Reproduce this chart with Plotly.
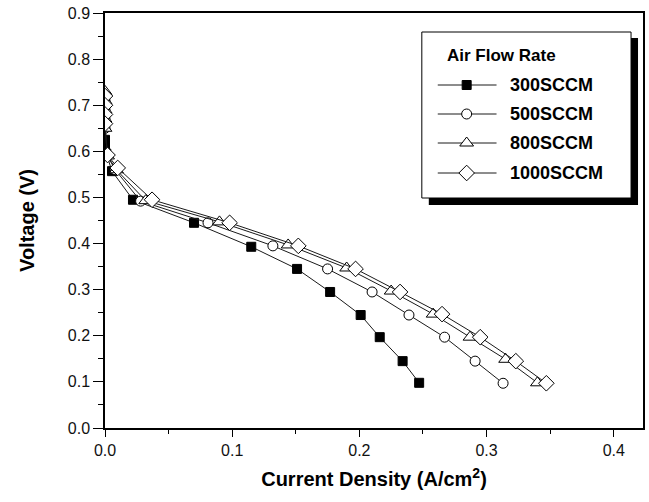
import plotly.graph_objects as go

# ---------------- data ----------------
series_names = ["300SCCM", "500SCCM", "800SCCM", "1000SCCM"]

x_300 = [0.0, 0.0, 0.001, 0.0055, 0.022, 0.070, 0.115, 0.151, 0.177, 0.201, 0.216, 0.234, 0.247]
v_300 = [0.625, 0.61, 0.595, 0.557, 0.495, 0.445, 0.393, 0.345, 0.295, 0.245, 0.197, 0.145, 0.098]

x_500 = [0.0, 0.0, 0.0, 0.0, 0.002, 0.008, 0.028, 0.081, 0.132, 0.175, 0.210, 0.239, 0.267, 0.291, 0.313]
v_500 = [0.71, 0.69, 0.67, 0.65, 0.59, 0.56, 0.492, 0.445, 0.395, 0.345, 0.295, 0.245, 0.197, 0.145, 0.097]

x_800 = [0.0, 0.0, 0.0, 0.0, 0.0, 0.002, 0.009, 0.032, 0.090, 0.144, 0.190, 0.225, 0.258, 0.287, 0.315, 0.340]
v_800 = [0.73, 0.71, 0.69, 0.67, 0.65, 0.59, 0.56, 0.493, 0.447, 0.397, 0.347, 0.297, 0.247, 0.197, 0.149, 0.098]

x_1000 = [0.0, 0.0, 0.0, 0.0, 0.002, 0.010, 0.037, 0.098, 0.152, 0.197, 0.232, 0.265, 0.295, 0.323, 0.347]
v_1000 = [0.72, 0.70, 0.68, 0.66, 0.592, 0.564, 0.495, 0.445, 0.395, 0.345, 0.295, 0.247, 0.197, 0.145, 0.097]

x_ticks = [0.0, 0.1, 0.2, 0.3, 0.4]
y_ticks = [0.0, 0.1, 0.2, 0.3, 0.4, 0.5, 0.6, 0.7, 0.8, 0.9]

# ---------------- styles ----------------
FONT = "Liberation Sans, Arial, Helvetica, sans-serif"
LINE_COL = "#1a1a1a"
styles = [
    dict(symbol="square", size=9, color="black"),
    dict(symbol="circle", size=10, color="white"),
    dict(symbol="triangle-up", size=12, color="white"),
    dict(symbol="diamond", size=12, color="white"),
]
xs = [x_300, x_500, x_800, x_1000]
vs = [v_300, v_500, v_800, v_1000]

fig = go.Figure()
for name, x, v, st in zip(series_names, xs, vs, styles):
    fig.add_trace(go.Scatter(
        x=x, y=v, mode="lines+markers", name=name, showlegend=False,
        line=dict(color=LINE_COL, width=1),
        marker=dict(symbol=st["symbol"], size=st["size"], color=st["color"],
                    line=dict(color="black", width=1)),
    ))

# ---- custom legend drawn in a pixel-like overlay axis ----
L, R, T, B = 105, 645, 13, 428
legend_rows = [85, 114, 143, 173]
for name, st, yy in zip(series_names, styles, legend_rows):
    fig.add_trace(go.Scatter(
        x=[439, 498], y=[yy, yy], mode="lines", xaxis="x2", yaxis="y2",
        showlegend=False, hoverinfo="skip",
        line=dict(color=LINE_COL, width=1)))
    fig.add_trace(go.Scatter(
        x=[468], y=[yy], mode="markers", xaxis="x2", yaxis="y2",
        showlegend=False, hoverinfo="skip",
        marker=dict(symbol=st["symbol"], size=st["size"], color=st["color"],
                    line=dict(color="black", width=1))))
    fig.add_annotation(x=509, y=yy, xref="x2", yref="y2", text=name,
                       showarrow=False, xanchor="left", yanchor="middle",
                       font=dict(family=FONT, size=18, color="black", weight="bold"))

fig.add_annotation(x=446, y=55, xref="x2", yref="y2", text="Air Flow Rate",
                   showarrow=False, xanchor="left", yanchor="middle",
                   font=dict(family=FONT, size=17, color="black", weight="bold"))

# shadow + box
fig.add_shape(type="rect", xref="x2", yref="y2", x0=430, x1=640, y0=38, y1=205,
              fillcolor="black", line=dict(width=0), layer="below")
fig.add_shape(type="rect", xref="x2", yref="y2", x0=423, x1=633, y0=32, y1=198,
              fillcolor="white", line=dict(color="black", width=1), layer="below")

# panel label
fig.add_annotation(x=8, y=482, xref="x2", yref="y2", text="(a)", showarrow=False,
                   xanchor="left", yanchor="middle",
                   font=dict(family=FONT, size=20, color="black"))

fig.update_layout(
    width=649, height=502,
    margin=dict(l=L, r=649 - R, t=T, b=502 - B),
    paper_bgcolor="white", plot_bgcolor="white",
    font=dict(family=FONT, color="black"),
    xaxis=dict(
        range=[0, 0.423], tickvals=x_ticks, ticktext=[f"{t:.1f}" for t in x_ticks],
        ticks="outside", ticklen=7, tickwidth=1.3, tickcolor="black",
        showline=True, linecolor="black", linewidth=1.5, mirror=True,
        showgrid=False, zeroline=False,
        tickfont=dict(family=FONT, size=16, color="#111"),
        minor=dict(dtick=0.05, tick0=0, ticks="outside", ticklen=4, tickcolor="black", tickwidth=1.2),
        title=dict(text="Current Density (A/cm<sup>2</sup>)", standoff=14,
                   font=dict(family=FONT, size=20, color="black", weight="bold")),
    ),
    yaxis=dict(
        range=[0, 0.9], tickvals=y_ticks, ticktext=[f"{t:.1f}" for t in y_ticks],
        ticks="outside", ticklen=10, tickwidth=1.3, tickcolor="black",
        showline=True, linecolor="black", linewidth=1.5, mirror=True,
        showgrid=False, zeroline=False,
        tickfont=dict(family=FONT, size=16, color="#111"),
        minor=dict(dtick=0.05, tick0=0, ticks="outside", ticklen=5, tickcolor="black", tickwidth=1.2),
        title=dict(text="Voltage (V)", standoff=28,
                   font=dict(family=FONT, size=20, color="black", weight="bold")),
    ),
    xaxis2=dict(range=[L, R], overlaying="x", visible=False, fixedrange=True),
    yaxis2=dict(range=[B, T], overlaying="y", visible=False, fixedrange=True),
)

fig.write_html("out.html")
